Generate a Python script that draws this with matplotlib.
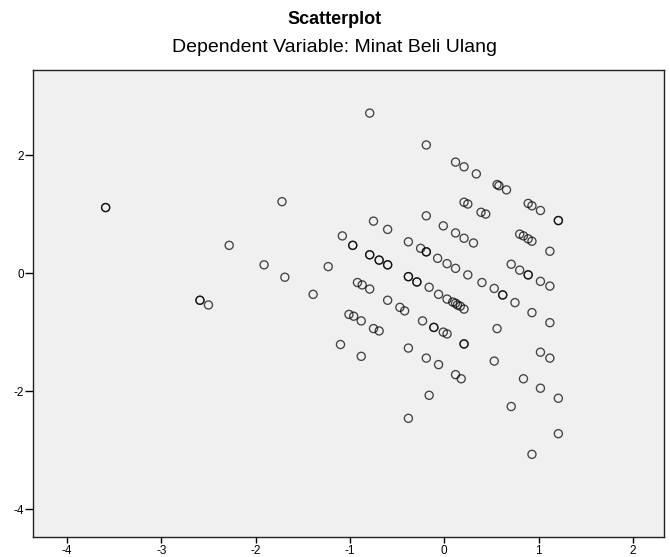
import numpy as np
import matplotlib
matplotlib.use("Agg")
import matplotlib.pyplot as plt

plt.rcParams['font.family'] = ['Liberation Sans', 'DejaVu Sans']
plt.rcParams['axes.unicode_minus'] = False

# regression standardized predicted value (x) vs standardized residual (y)
pred = [-3.59, -3.59, -2.59, -2.59, -2.50, -2.28, -1.91, -1.72, -1.69, -1.39,
        -1.23, -1.10, -1.08, -0.97, -0.97, -1.01, -0.96, -0.92, -0.87, -0.88,
        -0.88, -0.79, -0.79, -0.79, -0.79, -0.75, -0.75, -0.69, -0.69, -0.69,
        -0.60, -0.60, -0.60, -0.60, -0.47, -0.42, -0.38, -0.38, -0.38, -0.38,
        -0.38, -0.29, -0.29, -0.25, -0.19, -0.19, -0.19, -0.19, -0.16, -0.23,
        -0.19, -0.16, -0.11, -0.11, -0.07, -0.06, -0.06, -0.01, -0.01, 0.03,
        0.03, 0.03, 0.09, 0.12, 0.14, 0.17, 0.21, 0.12, 0.21, 0.34,
        0.12, 0.21, 0.31, 0.12, 0.25, 0.12, 0.18, 0.21, 0.25, 0.21,
        0.21, 0.39, 0.44, 0.40, 0.53, 0.53, 0.56, 0.58, 0.56, 0.62,
        0.62, 0.66, 0.71, 0.71, 0.75, 0.80, 0.84, 0.80, 0.84, 0.89,
        0.93, 0.89, 0.93, 0.89, 0.89, 0.93, 0.93, 1.02, 1.02, 1.02,
        1.02, 1.12, 1.12, 1.12, 1.12, 1.21, 1.21, 1.21, 1.21]
resid = [1.11, 1.11, -0.46, -0.46, -0.54, 0.47, 0.14, 1.21, -0.07, -0.36,
         0.11, -1.21, 0.63, 0.47, 0.47, -0.70, -0.73, -0.16, -0.20, -0.81,
         -1.41, 2.71, 0.31, 0.31, -0.27, 0.88, -0.94, -0.98, 0.22, 0.22,
         0.74, 0.14, 0.14, -0.46, -0.58, -0.64, 0.53, -0.06, -0.06, -1.27,
         -2.46, -0.15, -0.15, 0.42, 0.36, 0.36, 2.17, 0.97, -0.24, -0.81,
         -1.44, -2.07, -0.92, -0.92, 0.25, -0.36, -1.55, 0.80, -1.00, -1.03,
         0.16, -0.44, -0.49, -0.51, -0.54, -0.56, -0.61, 1.88, 1.80, 1.68,
         0.68, 0.59, 0.51, 0.08, -0.03, -1.72, -1.79, 1.20, 1.17, -1.20,
         -1.20, 1.03, 1.00, -0.16, -0.26, -1.49, 1.50, 1.48, -0.94, -0.37,
         -0.37, 1.41, 0.15, -2.26, -0.50, 0.66, 0.63, 0.05, -1.79, 1.18,
         1.14, 0.58, 0.54, -0.03, -0.03, -0.67, -3.07, 1.06, -0.14, -1.34,
         -1.95, 0.37, -0.22, -0.84, -1.44, 0.89, 0.89, -2.12, -2.72]

xticks = [-4, -3, -2, -1, 0, 1, 2]
yticks = [-4, -2, 0, 2]

fig = plt.figure(figsize=(6.7, 5.57), dpi=100)
ax = fig.add_axes([33/670, 1 - 537/557, 631/670, 467/557])
ax.set_facecolor('#f0f0f0')

ax.scatter(pred, resid, s=34, facecolors='none', edgecolors='black',
           linewidths=0.95, alpha=0.72)

ax.set_xlim(-4.36, 2.33)
ax.set_ylim(-4.47, 3.44)
ax.set_xticks(xticks)
ax.set_yticks(yticks)
ax.tick_params(axis='x', length=4.5, width=1, pad=1, labelsize=8.5)
ax.tick_params(axis='y', length=5.8, width=1, pad=0.5, labelsize=8.5)
for s in ax.spines.values():
    s.set_linewidth(1)
    s.set_color('#222222')

fig.text(0.5, 1 - 19/557, 'Scatterplot', ha='center', va='center',
         fontsize=13, fontweight='bold')
fig.text(0.5, 1 - 48/557, 'Dependent Variable: Minat Beli Ulang',
         ha='center', va='center', fontsize=14)

fig.savefig('out.png', dpi=100)
